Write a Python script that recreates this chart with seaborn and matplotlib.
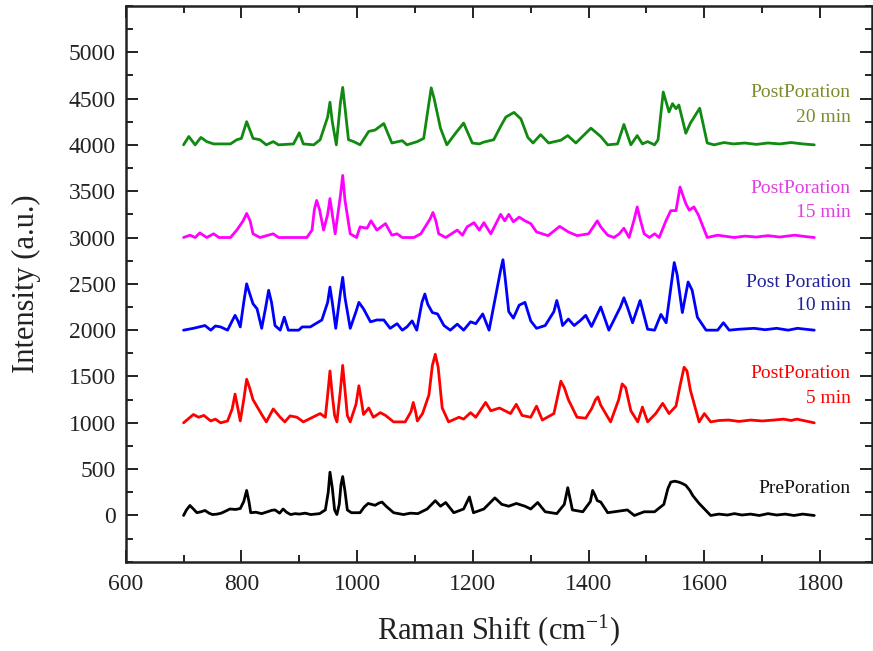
import matplotlib
matplotlib.use("Agg")
import matplotlib.pyplot as plt
import seaborn as sns
import pandas as pd
from matplotlib.ticker import MultipleLocator

# ---------------- data ----------------
pre_x = [700, 705, 711, 717, 723, 730, 737, 744, 750, 758, 765, 772, 780, 790, 798, 804, 809, 813,
         816, 825, 835, 845, 852, 858, 866, 872, 878, 885, 893, 900, 910, 920, 935, 945,
         950, 953, 957, 961, 965, 969, 972, 975, 979, 983, 990, 1005, 1012, 1019, 1031, 1038, 1043, 1050, 1063, 1080, 1092, 1105, 1121, 1135, 1144, 1153,
         1167, 1184, 1194, 1201, 1219, 1238, 1250, 1262, 1275, 1290, 1300, 1312, 1325, 1345,
         1358, 1364, 1368, 1372, 1390, 1403, 1407, 1411, 1415, 1421, 1433, 1450, 1467, 1479, 1496, 1514, 1530, 1537, 1542, 1549, 1556,
         1562, 1568, 1575, 1580, 1591, 1611, 1625, 1640, 1652, 1665, 1680, 1695, 1710, 1725, 1740, 1755, 1770, 1790]
pre_y = [0, 60, 108, 70, 30, 40, 54, 25, 10, 15, 25, 45, 70, 65, 75, 150, 270, 150,
         30, 35, 20, 40, 55, 60, 25, 70, 35, 10, 20, 15, 25, 10, 20, 60,
         250, 467, 300, 60, 10, 120, 330, 420, 260, 60, 30, 30, 90, 130, 110, 135, 145, 100, 30, 10, 25, 20, 70, 160, 100, 140,
         30, 70, 200, 30, 70, 190, 120, 100, 130, 100, 70, 140, 40, 20,
         120, 300, 180, 60, 40, 150, 270, 220, 160, 145, 30, 45, 60, 0, 40, 40, 120, 290, 360, 370, 360,
         345, 325, 270, 215, 130, 0, 15, 5, 20, 5, 15, 0, 20, 5, 15, 0, 15, 0]

p5_x = [700, 717, 726, 735, 747, 755, 764, 776, 784, 789, 794, 798, 804, 809, 814, 820, 835, 843, 855, 867, 875,
        884, 896, 907, 936, 945, 949, 953, 957, 961, 965, 971, 975, 979, 983, 988, 998, 1003, 1007, 1011, 1020, 1028, 1040, 1049, 1063,
        1083, 1093, 1097, 1101, 1104, 1113, 1124, 1130, 1135, 1140, 1147, 1158, 1176, 1184, 1196, 1205, 1222, 1231, 1246,
        1265, 1275, 1285, 1300, 1310, 1320, 1340, 1347, 1352, 1358, 1365, 1380, 1395, 1405, 1412, 1416, 1421,
        1438, 1452, 1458, 1464, 1473, 1485, 1493, 1502, 1516, 1528, 1539, 1551, 1558, 1565, 1570, 1576, 1591, 1600,
        1611, 1625, 1642, 1660, 1680, 1700, 1720, 1737, 1750, 1760, 1775, 1790]
p5_y = [1000, 1090, 1060, 1080, 1020, 1040, 1000, 1020, 1150, 1310, 1150, 1020, 1250, 1470, 1380, 1250, 1090, 1010, 1150,
        1060, 1010, 1075, 1060, 1010, 1100, 1060, 1300, 1560, 1300, 1080, 1010, 1350, 1620, 1350, 1080, 1010, 1200, 1400, 1250, 1090, 1160, 1060,
        1110, 1080, 1010, 1010, 1120, 1220, 1120, 1020, 1100, 1300, 1620, 1740, 1600, 1160, 1010, 1060, 1040, 1110, 1060, 1220,
        1130, 1160, 1100, 1200, 1080, 1060, 1180, 1030, 1100, 1300, 1450, 1380, 1250, 1060, 1050, 1150, 1250, 1280,
        1190, 1010, 1250, 1420, 1380, 1130, 1010, 1170, 1010, 1100, 1210, 1100, 1180, 1400, 1600, 1560, 1350, 1010, 1100,
        1010, 1025, 1030, 1015, 1030, 1020, 1030, 1040, 1025, 1040, 1020, 1000]

p10_x = [700, 717, 737, 747, 755, 764, 776, 784, 789, 794, 798, 804, 809, 814, 820, 827, 835, 842, 847, 852, 858, 867, 874,
         881, 899, 905, 919, 939, 949, 953, 957, 963, 971, 975, 979, 988, 998, 1003, 1011, 1023, 1034, 1046, 1057, 1069,
         1078, 1086, 1095, 1103, 1112, 1117, 1122, 1130, 1139, 1150, 1161, 1173, 1184, 1196, 1205, 1217,
         1228, 1240, 1248, 1252, 1256, 1262, 1270, 1280, 1290, 1300, 1310, 1325, 1340, 1345, 1350, 1355, 1365, 1375,
         1385, 1395, 1405, 1421, 1435, 1455, 1461, 1467, 1476, 1489, 1502, 1514, 1525, 1534, 1543, 1548, 1553, 1562,
         1572, 1579, 1588, 1603, 1623, 1633, 1643, 1660, 1686, 1705, 1725, 1745, 1761, 1775, 1790]
p10_y = [2000, 2020, 2050, 2000, 2045, 2035, 2000, 2100, 2160, 2100, 2035, 2300, 2500, 2400, 2285, 2230, 2020, 2250, 2430, 2300, 2050,
         2000, 2140, 2000, 2000, 2035, 2035, 2110, 2300, 2465, 2300, 2020, 2400, 2570, 2350, 2020, 2200, 2300, 2230, 2090, 2110,
         2110, 2020, 2070, 2000, 2035, 2100, 2000, 2300, 2390, 2280, 2190, 2175, 2050, 2000, 2065, 2000, 2090,
         2070, 2175, 2000, 2390, 2650, 2760, 2550, 2200, 2130, 2270, 2300, 2100, 2020, 2050, 2200, 2320, 2200, 2050, 2120,
         2050, 2100, 2160, 2040, 2250, 2000, 2250, 2350, 2250, 2080, 2320, 2010, 2000, 2170, 2080, 2500, 2730, 2600, 2190,
         2520, 2430, 2140, 2000, 2000, 2080, 2000, 2010, 2020, 2005, 2020, 2000, 2020, 2010, 2000]

p15_x = [700, 711, 720, 728, 740, 752, 761, 781, 792, 803, 809, 815, 820, 832, 855, 864, 913, 922, 926, 930, 935,
         942, 949, 953, 957, 962, 971, 975, 979, 988, 999, 1005, 1017, 1024, 1034, 1049, 1060, 1069, 1078, 1098,
         1110, 1126, 1131, 1136, 1141, 1153, 1173, 1182, 1190, 1202, 1211, 1219, 1231, 1248, 1255, 1262,
         1270, 1280, 1290, 1300, 1310, 1330, 1350, 1365, 1380, 1400, 1415, 1421, 1433, 1444,
         1453, 1461, 1470, 1479, 1484, 1489, 1496, 1505, 1514, 1522, 1534, 1542, 1551, 1558, 1568, 1574,
         1582, 1590, 1605, 1623, 1640, 1652, 1670, 1690, 1710, 1730, 1756, 1775, 1790]
p15_y = [3000, 3025, 3000, 3050, 3000, 3040, 3000, 3000, 3080, 3180, 3260, 3180, 3040, 3000, 3040, 3000, 3000,
         3080, 3300, 3400, 3300, 3080, 3250, 3420, 3250, 3040, 3450, 3670, 3400, 3040, 3000, 3115, 3100, 3180, 3080, 3150, 3025, 3040,
         3000, 3000, 3040, 3200, 3270, 3180, 3040, 3000, 3080, 3025, 3115, 3160, 3080, 3160, 3040, 3250, 3180,
         3250, 3170, 3220, 3180, 3150, 3060, 3020, 3120, 3060, 3020, 3040, 3180, 3115, 3025, 3000,
         3040, 3100, 3000, 3200, 3330, 3200, 3040, 3000, 3040, 3000, 3185, 3290, 3290, 3545, 3365, 3295,
         3330, 3240, 3000, 3025, 3010, 3000, 3015, 3005, 3020, 3005, 3025, 3010, 3000]

p20_x = [700, 709, 720, 730, 740, 752, 781, 792, 800, 805, 809, 814, 820, 832, 843, 855, 864, 890, 900,
         907, 925, 936, 949, 953, 957, 964, 971, 975, 979, 985, 994, 1005, 1020, 1031, 1046, 1060, 1078, 1086, 1104,
         1115, 1124, 1128, 1133, 1144, 1155, 1170, 1184, 1199, 1211, 1219, 1236, 1248, 1257, 1271, 1283,
         1295, 1304, 1317, 1331, 1352, 1364, 1378, 1404, 1421, 1433, 1450, 1461, 1473, 1484,
         1493, 1502, 1514, 1520, 1529, 1539, 1545, 1551, 1556, 1568, 1576, 1585, 1592, 1605,
         1617, 1634, 1650, 1670, 1690, 1710, 1730, 1750, 1770, 1790]
p20_y = [4000, 4090, 4000, 4080, 4035, 4010, 4010, 4055, 4070, 4170, 4250, 4170, 4070, 4055, 4000, 4035, 4000,
         4010, 4130, 4010, 4000, 4055, 4300, 4460, 4250, 4000, 4450, 4620, 4400, 4055, 4035, 4000, 4145, 4160, 4230, 4020,
         4045, 4000, 4035, 4070, 4450, 4615, 4500, 4180, 4000, 4125, 4235, 4020, 4010, 4030, 4055, 4200, 4300,
         4350, 4280, 4080, 4020, 4110, 4020, 4050, 4100, 4020, 4180, 4090, 4000, 4010, 4220, 4000,
         4100, 4010, 4035, 4000, 4055, 4570, 4355, 4445, 4390, 4430, 4125, 4235, 4325, 4395, 4020,
         4000, 4025, 4010, 4020, 4005, 4020, 4010, 4025, 4010, 4000]

series_names = ["PrePoration", "PostPoration 5 min", "Post Poration 10 min",
                "PostPoration 15 min", "PostPoration 20 min"]
line_colors = ["#000000", "#ff0000", "#0000ff", "#ff00ff", "#108a10"]
label_colors = ["#111111", "#ff0000", "#20209a", "#e040e0", "#7c8c2c"]
label_lines = [["PrePoration"], ["PostPoration", "5 min"], ["Post Poration", "10 min"],
               ["PostPoration", "15 min"], ["PostPoration", "20 min"]]
label_y = [[291], [1532, 1262], [2518, 2266], [3528, 3270], [4565, 4295]]
xticks = [600, 800, 1000, 1200, 1400, 1600, 1800]
yticks = [0, 500, 1000, 1500, 2000, 2500, 3000, 3500, 4000, 4500, 5000]

all_x = [pre_x, p5_x, p10_x, p15_x, p20_x]
all_y = [pre_y, p5_y, p10_y, p15_y, p20_y]
frames = []
for name, xs, ys in zip(series_names, all_x, all_y):
    frames.append(pd.DataFrame({"shift": xs, "intensity": ys, "series": name}))
df = pd.concat(frames, ignore_index=True)

# ---------------- plotting ----------------
sns.set_theme(style="ticks")
plt.rcParams["font.family"] = ["Liberation Serif", "DejaVu Serif"]
plt.rcParams["mathtext.fontset"] = "custom"
plt.rcParams["mathtext.rm"] = "Liberation Serif"
plt.rcParams["mathtext.it"] = "Liberation Serif:italic"

fig = plt.figure(figsize=(8.73, 6.51), dpi=100)
ax = fig.add_axes([0.144, 0.137, 0.855, 0.854])

sns.lineplot(data=df, x="shift", y="intensity", hue="series",
             palette=dict(zip(series_names, line_colors)), hue_order=series_names,
             estimator=None, sort=False, legend=False, linewidth=2.0, ax=ax)

ax.set_xlim(600, 1890)
ax.set_ylim(-500, 5500)
ax.set_xticks(xticks)
ax.set_yticks(yticks)
ax.xaxis.set_minor_locator(MultipleLocator(100))
ax.yaxis.set_minor_locator(MultipleLocator(250))
ax.tick_params(which="both", direction="in", top=True, right=True, width=1.4,
               colors="#222222", labelcolor="#222222")
ax.tick_params(which="major", length=8.5, labelsize=17)
ax.tick_params(which="minor", length=5)
ax.tick_params(axis="x", which="major", pad=9)
ax.tick_params(axis="y", which="major", pad=7)
for sp in ax.spines.values():
    sp.set_linewidth(1.8)
    sp.set_color("#222222")

ax.set_xlabel(r"Raman Shift (cm$^{\mathrm{-1}}$)", fontsize=22, labelpad=12, color="#222222")
ax.set_ylabel("Intensity (a.u.)", fontsize=22, labelpad=20, color="#222222")

for lines, ys, col in zip(label_lines, label_y, label_colors):
    for txt, yy in zip(lines, ys):
        ax.text(1853, yy, txt, ha="right", va="center", fontsize=14, color=col)

fig.savefig("out.png", dpi=100)
